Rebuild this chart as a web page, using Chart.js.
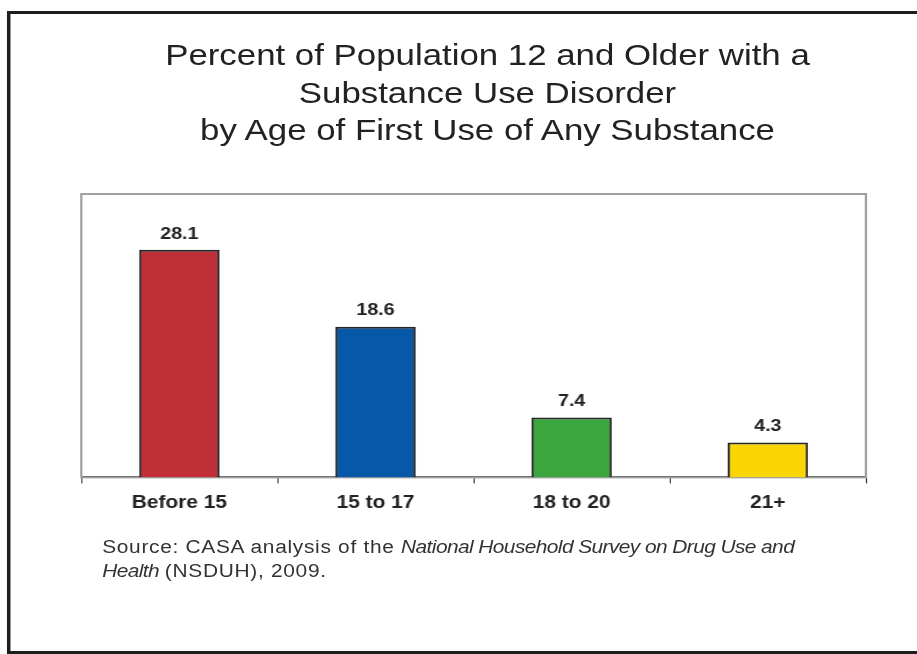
<!DOCTYPE html>
<html>
<head>
<meta charset="utf-8">
<script src="https://cdn.jsdelivr.net/npm/chart.js@4"></script>
<style>
  html, body { margin: 0; padding: 0; background: #fff; overflow: hidden; }
  body { width: 917px; height: 654px; position: relative; font-family: "Liberation Sans", Arial, sans-serif; }
  /* the reference slide is stretched sideways, so the whole stage is too */
  #stage { position: absolute; left: 0; top: 0; width: 790px; height: 654px; transform: scaleX(1.1607); transform-origin: 0 0; }
  #frame { position: absolute; left: 6px; top: 11px; width: 900px; height: 637px; border: 3px solid #1e1e1e; }
  #title { position: absolute; left: 0; top: 36px; width: 840px; text-align: center; font-size: 30px; line-height: 37.5px; color: #222; }
  #chartBox { position: absolute; left: 0; top: 150px; width: 790px; height: 380px; }
  #source { position: absolute; left: 88px; top: 535px; font-size: 18px; line-height: 24px; color: #333; white-space: nowrap; }
  #source .plain { letter-spacing: 0.6px; }
  #source i { letter-spacing: -0.5px; }
</style>
</head>
<body>
<div id="stage">
  <div id="frame"></div>
  <div id="title">Percent of Population 12 and Older with a<br>Substance Use Disorder<br>by Age of First Use of Any Substance</div>
  <div id="chartBox"><canvas id="ageChart"></canvas></div>
  <div id="source"><span class="plain">Source: CASA analysis of the </span><i>National Household Survey on Drug Use and</i><br><i>Health</i> <span class="plain">(NSDUH), 2009.</span></div>
</div>
<script>
// chart data
const ageGroups = ['Before 15', '15 to 17', '18 to 20', '21+'];
const disorderPct = [28.1, 18.6, 7.4, 4.3];
const barColors = ['#c02f38', '#0758a8', '#3aa63d', '#f9d504'];

// grey box round the plot area
const plotFrame = {
    id: 'plotFrame',
    beforeDatasetsDraw(chart) {
        const { ctx, chartArea } = chart;
        ctx.save();
        ctx.strokeStyle = '#a0a0a0';
        ctx.lineWidth = 2;
        ctx.strokeRect(chartArea.left, chartArea.top, chartArea.right - chartArea.left, chartArea.bottom - chartArea.top);
        ctx.restore();
    }
};

// numbers above the bars
const valueLabels = {
    id: 'valueLabels',
    afterDatasetsDraw(chart) {
        const { ctx } = chart;
        const meta = chart.getDatasetMeta(0);
        ctx.save();
        ctx.font = 'bold 17px "Liberation Sans", Arial, sans-serif';
        ctx.fillStyle = '#222';
        ctx.textAlign = 'center';
        ctx.textBaseline = 'middle';
        meta.data.forEach((bar, i) => {
            ctx.fillText(disorderPct[i].toFixed(1), bar.x, bar.y - 16);
        });
        ctx.restore();
    }
};

const ctx = document.getElementById('ageChart').getContext('2d');
new Chart(ctx, {
    type: 'bar',
    data: {
        labels: ageGroups,
        datasets: [{
            data: disorderPct,
            backgroundColor: barColors,
            borderColor: '#262626',
            borderWidth: 2,
            borderSkipped: 'bottom',
            categoryPercentage: 1,
            barPercentage: 0.41
        }]
    },
    options: {
        responsive: true,
        maintainAspectRatio: false,
        animation: false,
        layout: { padding: { left: 70, right: 44, top: 44, bottom: 7 } },
        plugins: {
            legend: { display: false },
            tooltip: { enabled: false }
        },
        scales: {
            x: {
                grid: { display: true, drawOnChartArea: false, drawTicks: true, tickLength: 6, color: '#333', offset: true },
                border: { display: true, color: '#333', width: 2 },
                ticks: {
                    color: '#222',
                    padding: 9,
                    font: { family: '"Liberation Sans", Arial, sans-serif', size: 18, weight: 'bold' }
                }
            },
            y: {
                display: false,
                min: 0,
                max: 35
            }
        }
    },
    plugins: [plotFrame, valueLabels]
});
</script>
</body>
</html>
